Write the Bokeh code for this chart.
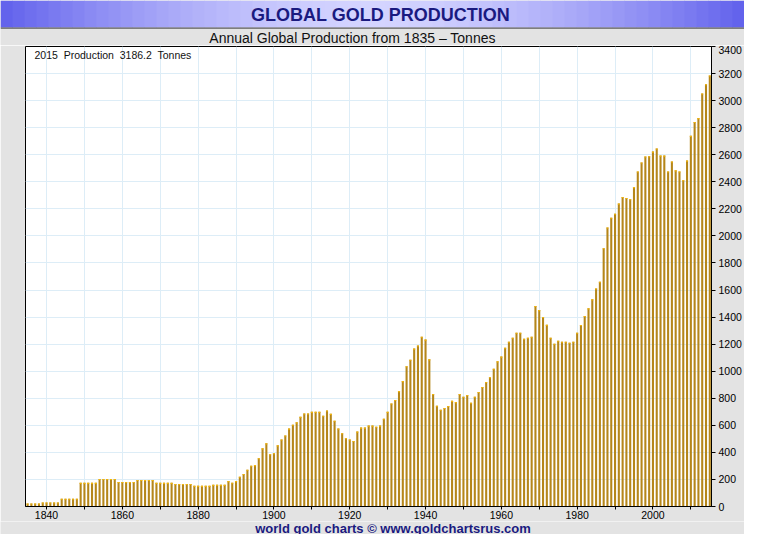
from bokeh.plotting import figure
from bokeh.layouts import column
from bokeh.models import (Range1d, SingleIntervalTicker, CustomJSTickFormatter, Label)
from bokeh.core.properties import value
from bokeh.embed import file_html
from bokeh.resources import INLINE

# ---------------- data ----------------
years = list(range(1835, 2016))
production = [
    # 1835-1844
    22, 22, 22, 22, 30, 30, 30, 30, 30, 58,
    # 1845-1854
    58, 58, 58, 58, 175, 175, 175, 175, 175, 203,
    # 1855-1864
    203, 203, 203, 203, 182, 182, 182, 182, 182, 196,
    # 1865-1874
    196, 196, 196, 196, 175, 175, 175, 175, 175, 167,
    # 1875-1884
    167, 167, 167, 167, 153, 153, 153, 153, 153, 160,
    # 1885-1894
    160, 160, 160, 188, 176, 188, 220, 240, 272, 301,
    # 1895-1904
    306, 357, 430, 467, 386, 394, 452, 496, 525, 576,
    # 1905-1914
    605, 622, 663, 688, 688, 700, 700, 700, 671, 710,
    # 1915-1924
    685, 634, 576, 542, 505, 496, 484, 554, 583, 583,
    # 1925-1934
    598, 598, 590, 598, 649, 700, 761, 787, 853, 927,
    # 1935-1944
    1037, 1085, 1167, 1190, 1255, 1234, 1088, 832, 745, 716,
    # 1945-1954
    728, 743, 781, 772, 832, 811, 825, 767, 811, 847,
    # 1955-1964
    883, 920, 956, 1019, 1073, 1108, 1174, 1218, 1247, 1284,
    # 1965-1974
    1284, 1240, 1247, 1255, 1482, 1452, 1401, 1343, 1247, 1203,
    # 1975-1984
    1226, 1218, 1218, 1211, 1218, 1284, 1342, 1408, 1465, 1531,
    # 1985-1994
    1611, 1661, 1909, 2062, 2135, 2164, 2239, 2288, 2281, 2271,
    # 1995-2004
    2361, 2477, 2543, 2587, 2589, 2623, 2647, 2594, 2594, 2477,
    # 2005-2014
    2550, 2485, 2477, 2412, 2557, 2740, 2842, 2871, 3053, 3121,
    # 2015
    3186.2,
]
assert len(years) == len(production)

title_text = "GLOBAL GOLD PRODUCTION"
subtitle_text = "Annual Global Production from 1835 \u2013 Tonnes"
note_text = "2015\u00a0 Production\u00a0 3186.2\u00a0 Tonnes"
footer_text = "world gold charts \u00a9 www.goldchartsrus.com"

W = 744
HEAD_H, FOOT_H = 45, 13
MAIN_H = 534 - HEAD_H - FOOT_H
GREY = "#e3e3e3"
NAVY = "#1a1a80"
FONT = "Liberation Sans"


def no_align(f):
    try:
        f.frame_align = False
    except Exception:
        pass


def bare(height):
    f = figure(width=W, height=height, output_backend="svg", toolbar_location=None,
               x_range=Range1d(0, W), y_range=Range1d(height, 0),
               min_border=0, x_axis_type=None, y_axis_type=None)
    f.outline_line_color = None
    f.grid.visible = False
    f.background_fill_color = GREY
    f.border_fill_color = GREY
    no_align(f)
    return f


# ---------------- header ----------------
head = bare(HEAD_H)
n = 62
cx = W / 2.0
cen = (212, 212, 255)
edg = (96, 96, 236)
sw = W / n
lefts, rights, cols = [], [], []
for i in range(n):
    x0 = i * sw
    t = min(1.0, abs(x0 + sw / 2 - cx) / cx) ** 1.6
    c = tuple(int(round(cen[k] + (edg[k] - cen[k]) * t)) for k in range(3))
    lefts.append(x0)
    rights.append(x0 + sw + 0.5)
    cols.append("#%02x%02x%02x" % c)
head.quad(left=lefts, right=rights, top=0, bottom=27, fill_color=cols, line_color=None)
head.quad(left=[0], right=[W], top=[27], bottom=[28.3], fill_color="#5c5c5c", line_color=None)
head.text(x=[380], y=[14.5], text=[title_text], text_align="center",
          text_baseline="middle", text_font=value(FONT), text_font_style="bold",
          text_font_size="18px", text_color=NAVY)
head.text(x=[352], y=[37.5], text=[subtitle_text], text_align="center",
          text_baseline="middle", text_font=value(FONT), text_font_size="14px",
          text_color="#111111")

# ---------------- main chart ----------------
p = figure(width=W, height=MAIN_H, output_backend="svg", toolbar_location=None,
           x_range=Range1d(1834.45, 2015.45), y_range=Range1d(0, 3400),
           y_axis_location="right",
           min_border_left=25, min_border_right=31,
           min_border_top=1, min_border_bottom=0)
no_align(p)
p.background_fill_color = "white"
p.border_fill_color = GREY
p.outline_line_color = "black"
p.outline_line_width = 1

xt = SingleIntervalTicker(interval=10, num_minor_ticks=0)
yt = SingleIntervalTicker(interval=200, num_minor_ticks=0)
p.xaxis.ticker = xt
p.yaxis.ticker = yt
p.xgrid.ticker = xt
p.ygrid.ticker = yt
p.xaxis.formatter = CustomJSTickFormatter(
    code="return (Math.round(tick) % 20 === 0) ? String(Math.round(tick)) : '';")

for ax in (p.xaxis[0], p.yaxis[0]):
    ax.axis_line_color = "black"
    ax.major_tick_line_color = "black"
    ax.major_tick_in = 0
    ax.minor_tick_line_color = None
    ax.major_label_text_font = FONT
    ax.major_label_text_font_size = "10.5px"
    ax.major_label_text_color = "black"
p.xaxis.major_tick_out = 3
p.yaxis.major_tick_out = 4
p.xaxis.major_label_standoff = 1
p.yaxis.major_label_standoff = 3

p.xgrid.grid_line_color = "#ddedf7"
p.ygrid.grid_line_color = "#ddedf7"

p.vbar(x=years, top=production, width=0.55, fill_color="#b5861a", line_color=None)
p.vbar(x=years, top=production, bottom=[v - 8 for v in production], width=0.55,
       fill_color="#f2b50a", line_color=None)

p.add_layout(Label(x=1834.45, y=3400, x_offset=9, y_offset=-2, text=note_text,
                   text_align="left", text_baseline="top", text_font=FONT,
                   text_font_size="10.5px", text_color="#111111"))

# ---------------- footer ----------------
foot = bare(FOOT_H)
foot.text(x=[392.5], y=[6.5], text=[footer_text], text_align="center",
          text_baseline="middle", text_font=value(FONT), text_font_style="bold",
          text_font_size="13px", text_color=NAVY)

page = column(head, p, foot, spacing=0)
open("out.html", "w").write(file_html(page, INLINE))
